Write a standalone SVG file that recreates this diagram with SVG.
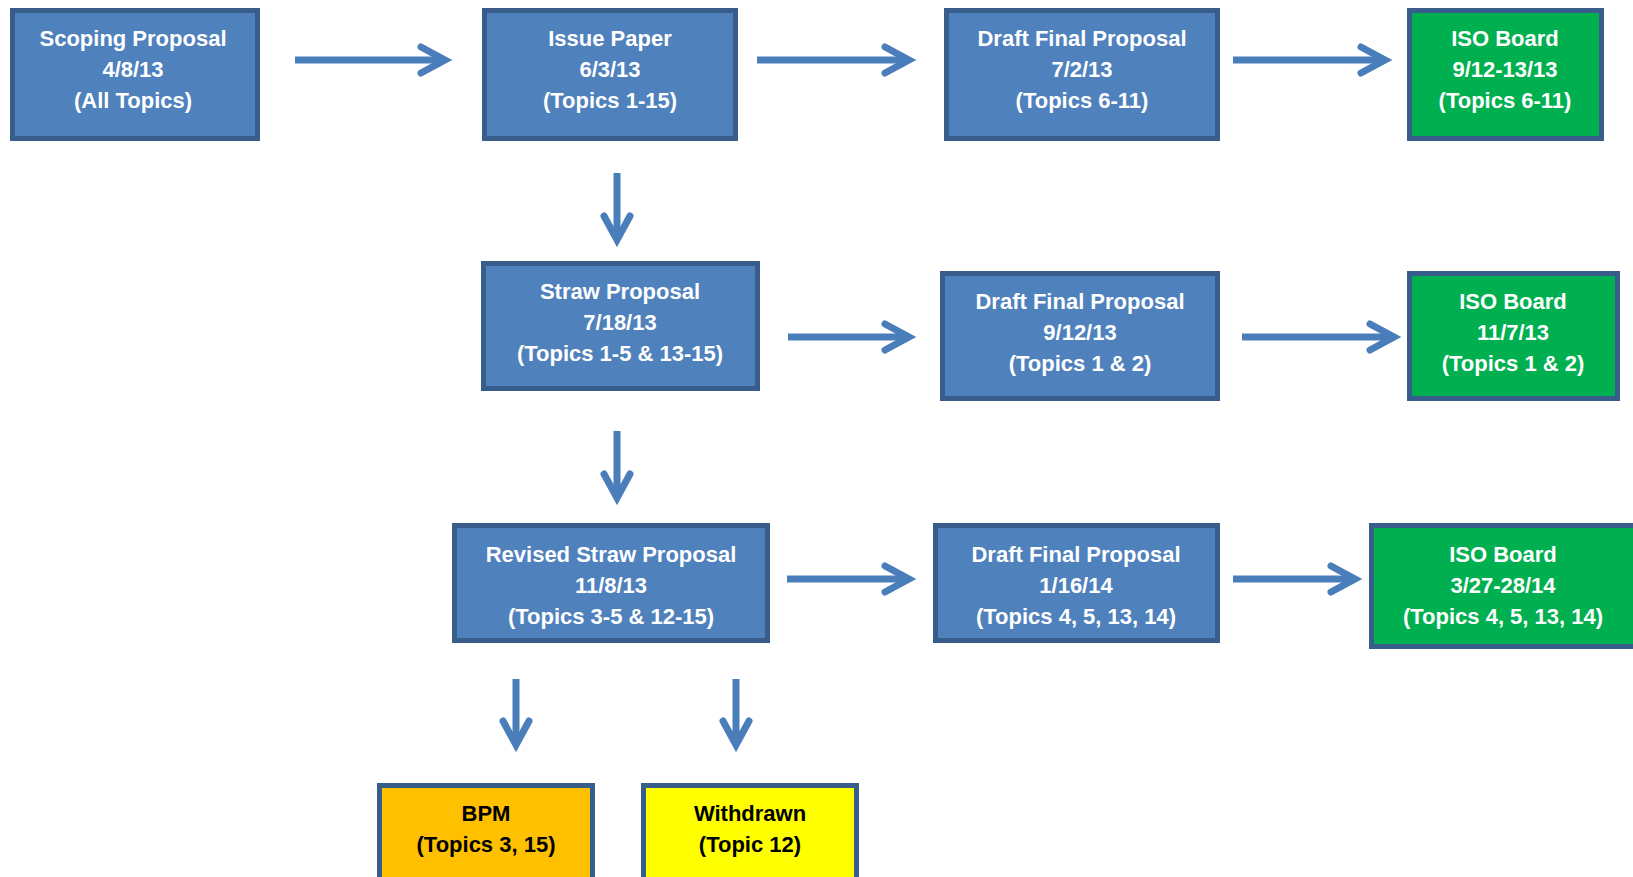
<svg xmlns="http://www.w3.org/2000/svg" width="1633" height="877" viewBox="0 0 1633 877">
<style>
.box{stroke:#385D8A;stroke-width:5}
.blue{fill:#4F81BD}
.green{fill:#00B050}
.orange{fill:#FFC000}
.yellow{fill:#FFFF00}
text{font-family:"Liberation Sans",Arial,sans-serif;font-weight:bold;font-size:22px;text-anchor:middle}
.w{fill:#FFFFFF}
.k{fill:#000000}
.conn line{stroke:#4A7EBB;stroke-width:7;stroke-linecap:butt;marker-end:url(#ah)}
</style>
<defs>
<marker id="ah" markerUnits="userSpaceOnUse" viewBox="-40 -20 50 40" markerWidth="50" markerHeight="40" refX="0" refY="0" orient="auto" overflow="visible">
<path d="M-24,-13 L0,0 L-24,13" fill="none" stroke="#4A7EBB" stroke-width="7" stroke-linecap="round" stroke-linejoin="miter"/>
</marker>
</defs>
<rect width="1633" height="877" fill="#FFFFFF"/>
<g class="conn" id="connectors">
<line x1="295" y1="60" x2="445" y2="60"/>
<line x1="757" y1="60" x2="909" y2="60"/>
<line x1="1233" y1="60" x2="1385" y2="60"/>
<line x1="617" y1="173" x2="617" y2="240"/>
<line x1="788" y1="337" x2="909" y2="337"/>
<line x1="1242" y1="337" x2="1394" y2="337"/>
<line x1="617" y1="431" x2="617" y2="498"/>
<line x1="787" y1="579" x2="909" y2="579"/>
<line x1="1233" y1="579" x2="1355" y2="579"/>
<line x1="516" y1="679" x2="516" y2="745"/>
<line x1="736" y1="679" x2="736" y2="745"/>
</g>
<g id="scoping">
<rect class="box blue" x="12.5" y="10.5" width="245" height="128"/>
<text class="w" x="133" y="46">Scoping Proposal</text>
<text class="w" x="133" y="77">4/8/13</text>
<text class="w" x="133" y="108">(All Topics)</text>
</g>
<g id="issue">
<rect class="box blue" x="484.5" y="10.5" width="251" height="128"/>
<text class="w" x="610" y="46">Issue Paper</text>
<text class="w" x="610" y="77">6/3/13</text>
<text class="w" x="610" y="108">(Topics 1-15)</text>
</g>
<g id="draft1">
<rect class="box blue" x="946.5" y="10.5" width="271" height="128"/>
<text class="w" x="1082" y="46">Draft Final Proposal</text>
<text class="w" x="1082" y="77">7/2/13</text>
<text class="w" x="1082" y="108">(Topics 6-11)</text>
</g>
<g id="iso1">
<rect class="box green" x="1409.5" y="10.5" width="192" height="128"/>
<text class="w" x="1505" y="46">ISO Board</text>
<text class="w" x="1505" y="77">9/12-13/13</text>
<text class="w" x="1505" y="108">(Topics 6-11)</text>
</g>
<g id="straw">
<rect class="box blue" x="483.5" y="263.5" width="274" height="125"/>
<text class="w" x="620" y="299">Straw Proposal</text>
<text class="w" x="620" y="330">7/18/13</text>
<text class="w" x="620" y="361">(Topics 1-5 &amp; 13-15)</text>
</g>
<g id="draft2">
<rect class="box blue" x="942.5" y="273.5" width="275" height="125"/>
<text class="w" x="1080" y="309">Draft Final Proposal</text>
<text class="w" x="1080" y="340">9/12/13</text>
<text class="w" x="1080" y="371">(Topics 1 &amp; 2)</text>
</g>
<g id="iso2">
<rect class="box green" x="1409.5" y="273.5" width="208" height="125"/>
<text class="w" x="1513" y="309">ISO Board</text>
<text class="w" x="1513" y="340">11/7/13</text>
<text class="w" x="1513" y="371">(Topics 1 &amp; 2)</text>
</g>
<g id="revised">
<rect class="box blue" x="454.5" y="525.5" width="313" height="115"/>
<text class="w" x="611" y="562">Revised Straw Proposal</text>
<text class="w" x="611" y="593">11/8/13</text>
<text class="w" x="611" y="624">(Topics 3-5 &amp; 12-15)</text>
</g>
<g id="draft3">
<rect class="box blue" x="935.5" y="525.5" width="282" height="115"/>
<text class="w" x="1076" y="562">Draft Final Proposal</text>
<text class="w" x="1076" y="593">1/16/14</text>
<text class="w" x="1076" y="624">(Topics 4, 5, 13, 14)</text>
</g>
<g id="iso3">
<rect class="box green" x="1371.5" y="525.5" width="266" height="121"/>
<text class="w" x="1503" y="562">ISO Board</text>
<text class="w" x="1503" y="593">3/27-28/14</text>
<text class="w" x="1503" y="624">(Topics 4, 5, 13, 14)</text>
</g>
<g id="bpm">
<rect class="box orange" x="379.5" y="785.5" width="213" height="110"/>
<text class="k" x="486" y="821">BPM</text>
<text class="k" x="486" y="852">(Topics 3, 15)</text>
</g>
<g id="withdrawn">
<rect class="box yellow" x="643.5" y="785.5" width="213" height="110"/>
<text class="k" x="750" y="821">Withdrawn</text>
<text class="k" x="750" y="852">(Topic 12)</text>
</g>
</svg>
